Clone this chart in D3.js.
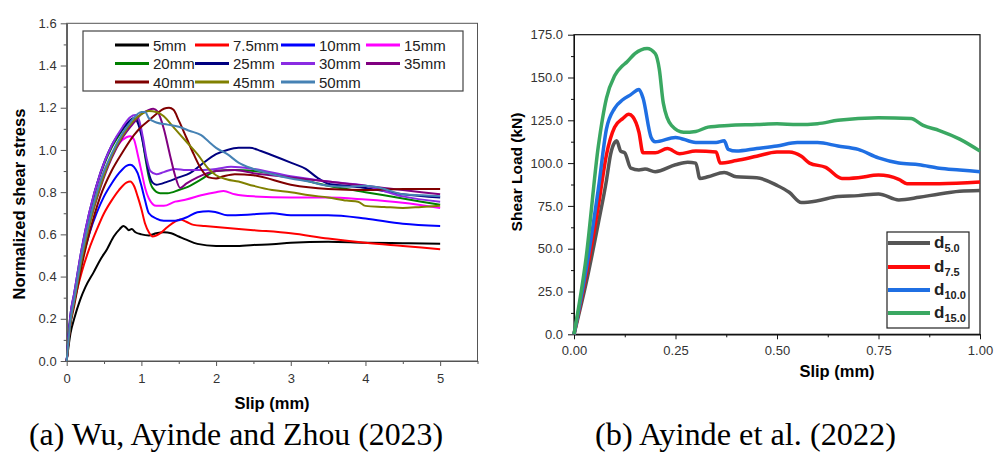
<!DOCTYPE html>
<html>
<head>
<meta charset="utf-8">
<title>Shear stress vs slip</title>
<script src="https://cdn.jsdelivr.net/npm/d3@7"></script>
<style>
body { margin: 0; background: #fff; }
text { font-family: Arial, "Liberation Sans", sans-serif; }
.caption { font-family: "Liberation Serif", "Times New Roman", serif; }
</style>
</head>
<body>
<svg id="fig" width="994" height="457"></svg>
<script>
//*******************
// data - chart (a)
//*******************
const namesA = ["5mm", "7.5mm", "10mm", "15mm", "20mm", "25mm", "30mm", "35mm", "40mm", "45mm", "50mm"];
const colorsA = ["#000000", "#ff0000", "#0000ff", "#ff00ff", "#008000", "#000080", "#8a2be2", "#800080", "#800000", "#808000", "#4682b4"];

const s5 = [[0,0],[0.05,0.13],[0.1,0.2],[0.18,0.29],[0.25,0.35],[0.36,0.42],[0.45,0.48],[0.54,0.53],[0.63,0.59],[0.71,0.625],[0.76,0.64],[0.8,0.63],[0.83,0.62],[0.87,0.625],[0.92,0.61],[1.0,0.6],[1.1,0.595],[1.2,0.605],[1.3,0.61],[1.4,0.605],[1.5,0.59],[1.6,0.575],[1.75,0.555],[2.0,0.545],[2.25,0.545],[2.5,0.55],[2.75,0.553],[3.0,0.56],[3.5,0.565],[4.0,0.56],[4.5,0.558],[5.0,0.555]];
const s7_5 = [[0,0],[0.05,0.2],[0.1,0.28],[0.2,0.42],[0.3,0.53],[0.4,0.62],[0.5,0.7],[0.6,0.76],[0.7,0.81],[0.8,0.845],[0.85,0.85],[0.9,0.83],[0.95,0.78],[1.0,0.72],[1.05,0.65],[1.1,0.61],[1.15,0.59],[1.25,0.605],[1.35,0.635],[1.45,0.66],[1.52,0.67],[1.6,0.66],[1.7,0.645],[1.85,0.64],[2.0,0.635],[2.5,0.62],[3.0,0.605],[3.5,0.58],[4.0,0.56],[4.5,0.545],[5.0,0.53]];
const s10 = [[0,0],[0.05,0.2],[0.1,0.3],[0.2,0.47],[0.3,0.6],[0.4,0.7],[0.5,0.78],[0.6,0.84],[0.7,0.89],[0.8,0.925],[0.85,0.93],[0.9,0.92],[0.95,0.89],[1.0,0.83],[1.05,0.76],[1.1,0.7],[1.2,0.675],[1.3,0.665],[1.45,0.665],[1.6,0.68],[1.75,0.705],[1.9,0.71],[2.0,0.705],[2.15,0.69],[2.5,0.695],[2.75,0.7],[3.0,0.69],[3.5,0.69],[4.0,0.675],[4.5,0.65],[5.0,0.64]];
const s15 = [[0,0],[0.05,0.2],[0.1,0.3],[0.2,0.5],[0.3,0.66],[0.4,0.8],[0.5,0.9],[0.6,0.97],[0.7,1.03],[0.8,1.06],[0.85,1.065],[0.9,1.05],[0.95,0.98],[1.0,0.9],[1.05,0.82],[1.1,0.77],[1.2,0.735],[1.3,0.735],[1.45,0.755],[1.6,0.765],[1.8,0.785],[2.0,0.8],[2.1,0.805],[2.25,0.79],[2.5,0.78],[3.0,0.775],[3.5,0.775],[4.0,0.765],[4.5,0.75],[5.0,0.725]];
const s20 = [[0,0],[0.05,0.2],[0.1,0.3],[0.2,0.5],[0.3,0.68],[0.4,0.83],[0.5,0.93],[0.6,1.01],[0.7,1.07],[0.8,1.12],[0.9,1.15],[0.95,1.14],[1.0,1.08],[1.05,0.97],[1.1,0.87],[1.15,0.82],[1.25,0.795],[1.35,0.795],[1.5,0.81],[1.65,0.83],[1.8,0.86],[2.0,0.9],[2.25,0.905],[2.5,0.9],[3.0,0.87],[3.5,0.83],[4.0,0.8],[4.5,0.77],[5.0,0.74]];
const s25 = [[0,0],[0.05,0.22],[0.1,0.32],[0.2,0.53],[0.3,0.7],[0.45,0.89],[0.6,1.02],[0.75,1.1],[0.85,1.14],[0.9,1.15],[0.95,1.13],[1.0,1.07],[1.05,0.98],[1.1,0.89],[1.15,0.845],[1.2,0.835],[1.35,0.85],[1.5,0.87],[1.65,0.89],[1.8,0.93],[2.0,0.98],[2.15,1.0],[2.3,1.01],[2.45,1.01],[2.6,0.995],[2.75,0.975],[3.0,0.94],[3.2,0.91],[3.35,0.87],[3.5,0.84],[3.75,0.83],[4.0,0.82],[4.5,0.79],[5.0,0.775]];
const s30 = [[0,0],[0.05,0.22],[0.1,0.32],[0.2,0.53],[0.3,0.7],[0.45,0.89],[0.6,1.02],[0.75,1.11],[0.85,1.155],[0.92,1.165],[0.97,1.14],[1.02,1.06],[1.07,0.96],[1.12,0.9],[1.2,0.885],[1.3,0.895],[1.45,0.91],[1.6,0.905],[1.8,0.905],[2.0,0.91],[2.2,0.92],[2.5,0.91],[3.0,0.875],[3.5,0.85],[4.0,0.83],[4.5,0.78],[5.0,0.755]];
const s35 = [[0,0],[0.05,0.18],[0.1,0.28],[0.2,0.48],[0.3,0.64],[0.45,0.82],[0.6,0.96],[0.75,1.06],[0.9,1.13],[1.0,1.17],[1.1,1.19],[1.16,1.195],[1.22,1.18],[1.3,1.1],[1.38,0.98],[1.45,0.88],[1.52,0.82],[1.6,0.84],[1.75,0.87],[2.0,0.9],[2.25,0.905],[2.5,0.89],[3.0,0.87],[3.5,0.85],[4.0,0.83],[4.5,0.81],[5.0,0.79]];
const s40 = [[0,0],[0.05,0.17],[0.1,0.26],[0.2,0.45],[0.3,0.6],[0.45,0.78],[0.6,0.9],[0.75,0.99],[0.9,1.07],[1.0,1.11],[1.1,1.14],[1.2,1.17],[1.3,1.195],[1.37,1.2],[1.43,1.19],[1.5,1.14],[1.6,1.06],[1.7,0.98],[1.8,0.91],[1.9,0.87],[2.0,0.865],[2.1,0.875],[2.25,0.885],[2.5,0.88],[3.0,0.835],[3.5,0.815],[4.0,0.81],[4.5,0.815],[5.0,0.815]];
const s45 = [[0,0],[0.05,0.18],[0.1,0.28],[0.2,0.48],[0.3,0.64],[0.45,0.83],[0.6,0.97],[0.75,1.07],[0.9,1.14],[1.0,1.17],[1.1,1.185],[1.2,1.18],[1.3,1.16],[1.4,1.12],[1.5,1.08],[1.6,1.04],[1.75,0.98],[1.9,0.91],[2.0,0.88],[2.15,0.86],[2.3,0.85],[2.5,0.83],[2.75,0.81],[3.0,0.8],[3.25,0.785],[3.5,0.775],[3.75,0.76],[3.9,0.755],[4.0,0.735],[4.25,0.73],[4.5,0.725],[4.75,0.73],[5.0,0.735]];
const s50 = [[0,0],[0.05,0.19],[0.1,0.29],[0.2,0.5],[0.3,0.66],[0.45,0.85],[0.6,0.98],[0.75,1.08],[0.85,1.13],[0.95,1.17],[1.0,1.18],[1.05,1.18],[1.1,1.15],[1.2,1.13],[1.35,1.12],[1.5,1.11],[1.65,1.09],[1.8,1.07],[1.9,1.04],[2.0,1.01],[2.15,0.98],[2.3,0.94],[2.5,0.91],[2.75,0.885],[3.0,0.865],[3.25,0.85],[3.5,0.83],[3.75,0.825],[4.0,0.83],[4.2,0.82],[4.5,0.79],[4.75,0.785],[5.0,0.78]];
const seriesA = [s5, s7_5, s10, s15, s20, s25, s30, s35, s40, s45, s50];

const yTicksA = [0, 0.2, 0.4, 0.6, 0.8, 1.0, 1.2, 1.4, 1.6];
const xTicksA = [0, 1, 2, 3, 4, 5];

//*******************
// data - chart (b)
//*******************
const namesB = ["5.0", "7.5", "10.0", "15.0"];
const colorsB = ["#555555", "#ff0a0a", "#1f6fe3", "#3aa862"];

const d5_0 = [[0,0],[0.03,30],[0.06,65],[0.08,90],[0.09,105],[0.1,112],[0.105,113],[0.115,107],[0.125,106],[0.14,97],[0.16,96],[0.175,96.5],[0.2,95],[0.25,99],[0.28,100.5],[0.3,100],[0.31,91],[0.33,92],[0.37,94.5],[0.4,92],[0.45,91.5],[0.5,87],[0.53,83],[0.56,77],[0.6,78],[0.65,80.5],[0.7,81],[0.75,82],[0.8,78.5],[0.85,80],[0.9,82],[0.95,83.5],[1.0,84]];
const d7_5 = [[0,0],[0.03,35],[0.06,75],[0.08,105],[0.1,121],[0.12,126],[0.135,128.5],[0.145,127],[0.16,118],[0.17,106],[0.2,106],[0.23,108.5],[0.26,105.5],[0.3,107],[0.35,106.5],[0.36,100],[0.4,101.5],[0.45,104],[0.5,106.5],[0.53,106.5],[0.56,104],[0.58,100],[0.62,97.5],[0.66,91],[0.7,91.5],[0.75,93],[0.8,90.5],[0.82,88],[0.9,88],[1.0,89]];
const d10_0 = [[0,0],[0.03,38],[0.06,85],[0.08,120],[0.1,132],[0.12,137],[0.14,140],[0.16,143],[0.17,138],[0.19,115],[0.2,112.5],[0.25,115],[0.3,112],[0.35,112],[0.37,113],[0.38,108],[0.4,107],[0.45,108.5],[0.5,110],[0.55,112],[0.6,112],[0.65,110],[0.7,108],[0.75,103],[0.8,100],[0.85,99],[0.9,97],[0.95,96],[1.0,95]];
const d15_0 = [[0,0],[0.03,45],[0.06,110],[0.08,138],[0.1,151],[0.12,157],[0.13,159],[0.15,164],[0.18,167],[0.2,164],[0.21,155],[0.22,135],[0.24,122],[0.27,118],[0.3,118.5],[0.33,121],[0.38,122],[0.45,122.5],[0.5,123],[0.55,122.5],[0.6,123],[0.65,125],[0.75,126.5],[0.83,126],[0.86,122],[0.9,119],[0.95,114],[1.0,107]];
const seriesB = [d5_0, d7_5, d10_0, d15_0];

const yTicksB = [0, 25, 50, 75, 100, 125, 150, 175];
const xTicksB = [0, 0.25, 0.5, 0.75, 1.0];

const svg = d3.select("#fig");

//*******************
// chart (a)
//*******************
const xA = d3.scaleLinear().domain([0, 5.5]).range([66.7, 477.5]);
const yA = d3.scaleLinear().domain([0, 1.6]).range([361, 23.3]);
const gA = svg.append("g");

// minor ticks
gA.append("g").attr("transform", "translate(66.7,0)")
  .call(d3.axisLeft(yA).tickValues(d3.range(0.1, 1.6, 0.2)).tickSize(3).tickSizeOuter(0).tickFormat(""));
gA.append("g").attr("transform", "translate(0,361)")
  .call(d3.axisBottom(xA).tickValues(d3.range(0.5, 5.6, 1)).tickSize(3).tickSizeOuter(0).tickFormat(""));
// major ticks
gA.append("g").attr("class", "ax").attr("transform", "translate(66.7,0)")
  .call(d3.axisLeft(yA).tickValues(yTicksA).tickSize(6).tickPadding(4).tickSizeOuter(0).tickFormat(d3.format(".1f")));
gA.append("g").attr("class", "ax").attr("transform", "translate(0,361)")
  .call(d3.axisBottom(xA).tickValues(xTicksA).tickSize(5).tickPadding(8).tickSizeOuter(0).tickFormat(d3.format("d")));
gA.selectAll("path.domain, line").attr("stroke", "#555");
gA.selectAll(".ax text").attr("font-size", 13).attr("fill", "#333");

// frame
gA.append("rect").attr("x", xA(0)).attr("y", yA(1.6))
  .attr("width", xA(5.5) - xA(0)).attr("height", yA(0) - yA(1.6))
  .attr("fill", "none").attr("stroke", "#555").attr("stroke-width", 1);

const lineA = d3.line().x(d => xA(d[0])).y(d => yA(d[1])).curve(d3.curveMonotoneX);
gA.selectAll("path.s").data(seriesA).enter().append("path")
  .attr("class", "s")
  .attr("d", lineA)
  .attr("fill", "none")
  .attr("stroke", (d, i) => colorsA[i])
  .attr("stroke-width", 2)
  .attr("stroke-linejoin", "round");

// legend (a)
gA.append("rect").attr("x", 83).attr("y", 31).attr("width", 380).attr("height", 60)
  .attr("fill", "#fff").attr("stroke", "#444").attr("stroke-width", 1.2);
const legColX = [115, 195, 281, 366];
const legRowY = [45, 63.5, 82];
namesA.forEach(function(n, i) {
  const cx = legColX[i % 4], cy = legRowY[Math.floor(i / 4)];
  gA.append("line").attr("x1", cx).attr("x2", cx + 34).attr("y1", cy).attr("y2", cy)
    .attr("stroke", colorsA[i]).attr("stroke-width", 3);
  gA.append("text").attr("x", cx + 38).attr("y", cy + 5.5)
    .attr("font-size", 15).attr("fill", "#222").text(n);
});

// axis titles (a)
gA.append("text").attr("transform", "translate(25,204) rotate(-90)")
  .attr("text-anchor", "middle").attr("font-size", 16.5).attr("font-weight", "bold")
  .text("Normalized shear stress");
gA.append("text").attr("x", 272).attr("y", 409)
  .attr("text-anchor", "middle").attr("font-size", 16.5).attr("font-weight", "bold")
  .text("Slip (mm)");

//*******************
// chart (b)
//*******************
const xB = d3.scaleLinear().domain([0, 1]).range([574, 980]);
const yB = d3.scaleLinear().domain([0, 175]).range([334.3, 34.7]);
const gB = svg.append("g");

gB.append("g").attr("transform", "translate(574,0)")
  .call(d3.axisLeft(yB).tickValues(d3.range(12.5, 175, 25)).tickSize(3).tickSizeOuter(0).tickFormat(""));
gB.append("g").attr("transform", "translate(0,334.3)")
  .call(d3.axisBottom(xB).tickValues(d3.range(0.125, 1, 0.25)).tickSize(3).tickSizeOuter(0).tickFormat(""));
gB.append("g").attr("class", "ax").attr("transform", "translate(574,0)")
  .call(d3.axisLeft(yB).tickValues(yTicksB).tickSize(6).tickPadding(5).tickSizeOuter(0).tickFormat(d3.format(".1f")));
gB.append("g").attr("class", "ax").attr("transform", "translate(0,334.3)")
  .call(d3.axisBottom(xB).tickValues(xTicksB).tickSize(5).tickPadding(6.5).tickSizeOuter(0).tickFormat(d3.format(".2f")));
gB.selectAll("path.domain, line").attr("stroke", "#111");
gB.selectAll(".ax text").attr("font-size", 13).attr("fill", "#333");

gB.append("rect").attr("x", xB(0)).attr("y", yB(175))
  .attr("width", xB(1) - xB(0)).attr("height", yB(0) - yB(175))
  .attr("fill", "none").attr("stroke", "#111").attr("stroke-width", 1.2);

const lineB = d3.line().x(d => xB(d[0])).y(d => yB(d[1])).curve(d3.curveMonotoneX);
gB.selectAll("path.s").data(seriesB).enter().append("path")
  .attr("class", "s")
  .attr("d", lineB)
  .attr("fill", "none")
  .attr("stroke", (d, i) => colorsB[i])
  .attr("stroke-width", 3.5)
  .attr("stroke-linejoin", "round");

// legend (b)
gB.append("rect").attr("x", 887).attr("y", 232).attr("width", 82).attr("height", 96)
  .attr("fill", "#fff").attr("stroke", "#222").attr("stroke-width", 1.2);
const legRowB = [243, 267, 290, 313];
namesB.forEach(function(n, i) {
  const cy = legRowB[i];
  gB.append("line").attr("x1", 888).attr("x2", 930).attr("y1", cy).attr("y2", cy)
    .attr("stroke", colorsB[i]).attr("stroke-width", 4);
  const t = gB.append("text").attr("x", 934).attr("y", cy + 5)
    .attr("font-size", 17).attr("font-weight", "bold").attr("fill", "#222");
  t.append("tspan").text("d");
  t.append("tspan").attr("dy", 4).attr("font-size", 11).text(n);
});

gB.append("text").attr("transform", "translate(522,172) rotate(-90)")
  .attr("text-anchor", "middle").attr("font-size", 15.5).attr("font-weight", "bold")
  .text("Shear Load (kN)");
gB.append("text").attr("x", 837).attr("y", 377)
  .attr("text-anchor", "middle").attr("font-size", 16.5).attr("font-weight", "bold")
  .text("Slip (mm)");

//*******************
// captions
//*******************
svg.append("text").attr("class", "caption").attr("x", 29).attr("y", 445)
  .attr("font-size", 31).attr("textLength", 414).attr("lengthAdjust", "spacingAndGlyphs")
  .text("(a) Wu, Ayinde and Zhou (2023)");
svg.append("text").attr("class", "caption").attr("x", 595).attr("y", 445)
  .attr("font-size", 31).attr("textLength", 301).attr("lengthAdjust", "spacingAndGlyphs")
  .text("(b) Ayinde et al. (2022)");
</script>
</body>
</html>
